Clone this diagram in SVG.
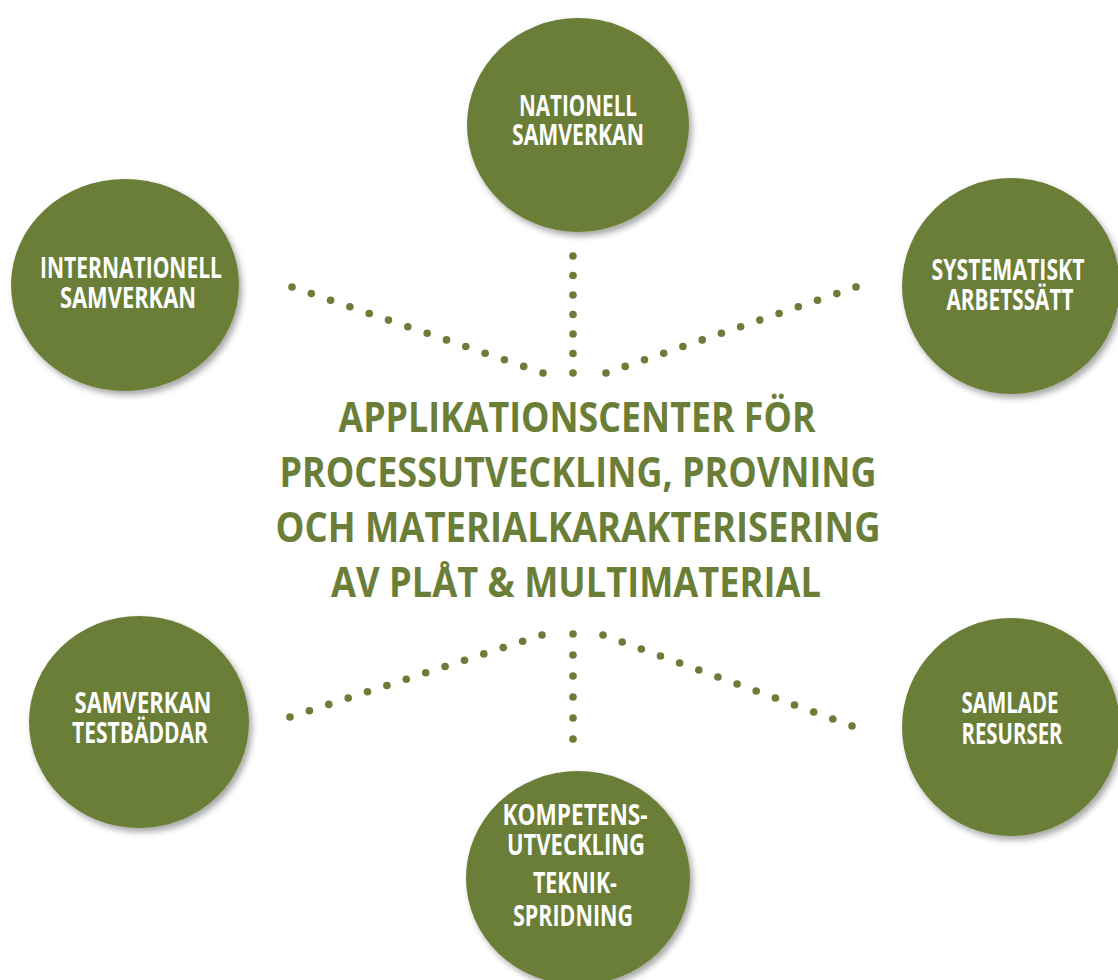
<svg xmlns="http://www.w3.org/2000/svg" width="1118" height="980" viewBox="0 0 1118 980">
<defs>
<filter id="sh" x="-20%" y="-20%" width="140%" height="140%">
<feDropShadow dx="3" dy="4" stdDeviation="3" flood-color="#000" flood-opacity="0.35"/>
</filter>
<g id="dot"><circle r="3.8" fill="#6b7d38"/></g>
</defs>
<style>
.c{fill:#6b7e38;filter:url(#sh)}
.t{font-family:"Open Sans","Liberation Sans",sans-serif;font-weight:700;font-size:28px;fill:#ffffff;text-anchor:middle}
.h{font-family:"Open Sans","Liberation Sans",sans-serif;font-weight:700;font-size:42px;fill:#6b7e38;text-anchor:middle}
</style>
<rect width="1118" height="980" fill="#ffffff"/>
<g id="connectors" fill="#6b7d38">
<g id="ul">
<circle cx="292" cy="287" r="3.8"/><circle cx="311.3" cy="293.6" r="3.8"/><circle cx="330.6" cy="300.2" r="3.8"/><circle cx="349.9" cy="306.8" r="3.8"/><circle cx="369.2" cy="313.5" r="3.8"/><circle cx="388.5" cy="320.1" r="3.8"/><circle cx="407.8" cy="326.7" r="3.8"/><circle cx="427.2" cy="333.3" r="3.8"/><circle cx="446.5" cy="339.9" r="3.8"/><circle cx="465.8" cy="346.5" r="3.8"/><circle cx="485.1" cy="353.2" r="3.8"/><circle cx="504.4" cy="359.8" r="3.8"/><circle cx="523.7" cy="366.4" r="3.8"/><circle cx="543" cy="373" r="3.8"/>
</g>
<g id="uv">
<circle cx="573" cy="256" r="3.8"/><circle cx="573" cy="275.5" r="3.8"/><circle cx="573" cy="295" r="3.8"/><circle cx="573" cy="314.5" r="3.8"/><circle cx="573" cy="334" r="3.8"/><circle cx="573" cy="353.5" r="3.8"/><circle cx="573" cy="373" r="3.8"/>
</g>
<g id="ur">
<circle cx="606" cy="373" r="3.8"/><circle cx="625.2" cy="366.4" r="3.8"/><circle cx="644.5" cy="359.8" r="3.8"/><circle cx="663.7" cy="353.2" r="3.8"/><circle cx="682.9" cy="346.5" r="3.8"/><circle cx="702.2" cy="339.9" r="3.8"/><circle cx="721.4" cy="333.3" r="3.8"/><circle cx="740.6" cy="326.7" r="3.8"/><circle cx="759.8" cy="320.1" r="3.8"/><circle cx="779.1" cy="313.5" r="3.8"/><circle cx="798.3" cy="306.8" r="3.8"/><circle cx="817.5" cy="300.2" r="3.8"/><circle cx="836.8" cy="293.6" r="3.8"/><circle cx="856" cy="287" r="3.8"/>
</g>
<g id="ll">
<circle cx="290" cy="717" r="3.8"/><circle cx="309.4" cy="710.7" r="3.8"/><circle cx="328.8" cy="704.4" r="3.8"/><circle cx="348.2" cy="698.1" r="3.8"/><circle cx="367.5" cy="691.8" r="3.8"/><circle cx="386.9" cy="685.5" r="3.8"/><circle cx="406.3" cy="679.2" r="3.8"/><circle cx="425.7" cy="672.8" r="3.8"/><circle cx="445.1" cy="666.5" r="3.8"/><circle cx="464.5" cy="660.2" r="3.8"/><circle cx="483.8" cy="653.9" r="3.8"/><circle cx="503.2" cy="647.6" r="3.8"/><circle cx="522.6" cy="641.3" r="3.8"/><circle cx="542" cy="635" r="3.8"/>
</g>
<g id="lv">
<circle cx="573" cy="634" r="3.8"/><circle cx="573" cy="655" r="3.8"/><circle cx="573" cy="676" r="3.8"/><circle cx="573" cy="697" r="3.8"/><circle cx="573" cy="718" r="3.8"/><circle cx="573" cy="739" r="3.8"/>
</g>
<g id="lr">
<circle cx="603" cy="635" r="3.8"/><circle cx="622.2" cy="642" r="3.8"/><circle cx="641.3" cy="649" r="3.8"/><circle cx="660.5" cy="656" r="3.8"/><circle cx="679.6" cy="663" r="3.8"/><circle cx="698.8" cy="670" r="3.8"/><circle cx="717.9" cy="677" r="3.8"/><circle cx="737.1" cy="684" r="3.8"/><circle cx="756.2" cy="691" r="3.8"/><circle cx="775.4" cy="698" r="3.8"/><circle cx="794.5" cy="705" r="3.8"/><circle cx="813.7" cy="712" r="3.8"/><circle cx="832.8" cy="719" r="3.8"/><circle cx="852" cy="726" r="3.8"/>
</g>
</g>
<g id="center">
<text class="h" x="577" y="432" textLength="477" lengthAdjust="spacingAndGlyphs">APPLIKATIONSCENTER FÖR</text>
<text class="h" x="578" y="487" textLength="597" lengthAdjust="spacingAndGlyphs">PROCESSUTVECKLING, PROVNING</text>
<text class="h" x="578" y="542" textLength="605" lengthAdjust="spacingAndGlyphs">OCH MATERIALKARAKTERISERING</text>
<text class="h" x="576" y="597" textLength="490" lengthAdjust="spacingAndGlyphs">AV PLÅT &amp; MULTIMATERIAL</text>
</g>
<g id="nationell">
<ellipse class="c" cx="578" cy="125" rx="111" ry="107"/>
<text class="t" x="578" y="116" textLength="118" lengthAdjust="spacingAndGlyphs">NATIONELL</text>
<text class="t" x="578" y="145" textLength="132" lengthAdjust="spacingAndGlyphs">SAMVERKAN</text>
</g>
<g id="internationell">
<ellipse class="c" cx="125" cy="285" rx="114" ry="106"/>
<text class="t" x="131" y="278" textLength="182" lengthAdjust="spacingAndGlyphs">INTERNATIONELL</text>
<text class="t" x="128" y="308" textLength="136" lengthAdjust="spacingAndGlyphs">SAMVERKAN</text>
</g>
<g id="systematiskt">
<ellipse class="c" cx="1011" cy="286" rx="109" ry="108"/>
<text class="t" x="1008" y="280" textLength="153" lengthAdjust="spacingAndGlyphs">SYSTEMATISKT</text>
<text class="t" x="1010" y="310" textLength="127" lengthAdjust="spacingAndGlyphs">ARBETSSÄTT</text>
</g>
<g id="testbaddar">
<ellipse class="c" cx="139" cy="722" rx="110" ry="106"/>
<text class="t" x="143" y="713" textLength="137" lengthAdjust="spacingAndGlyphs">SAMVERKAN</text>
<text class="t" x="140" y="743" textLength="136" lengthAdjust="spacingAndGlyphs">TESTBÄDDAR</text>
</g>
<g id="resurser">
<ellipse class="c" cx="1011" cy="727" rx="109" ry="109"/>
<text class="t" x="1010" y="713" textLength="97" lengthAdjust="spacingAndGlyphs">SAMLADE</text>
<text class="t" x="1012" y="744" textLength="101" lengthAdjust="spacingAndGlyphs">RESURSER</text>
</g>
<g id="kompetens">
<ellipse class="c" cx="578" cy="878" rx="112" ry="107"/>
<text class="t" x="575" y="825" textLength="145" lengthAdjust="spacingAndGlyphs">KOMPETENS-</text>
<text class="t" x="576" y="855" textLength="138" lengthAdjust="spacingAndGlyphs">UTVECKLING</text>
<text class="t" x="575" y="893" textLength="84" lengthAdjust="spacingAndGlyphs">TEKNIK-</text>
<text class="t" x="573" y="926" textLength="120" lengthAdjust="spacingAndGlyphs">SPRIDNING</text>
</g>
</svg>
